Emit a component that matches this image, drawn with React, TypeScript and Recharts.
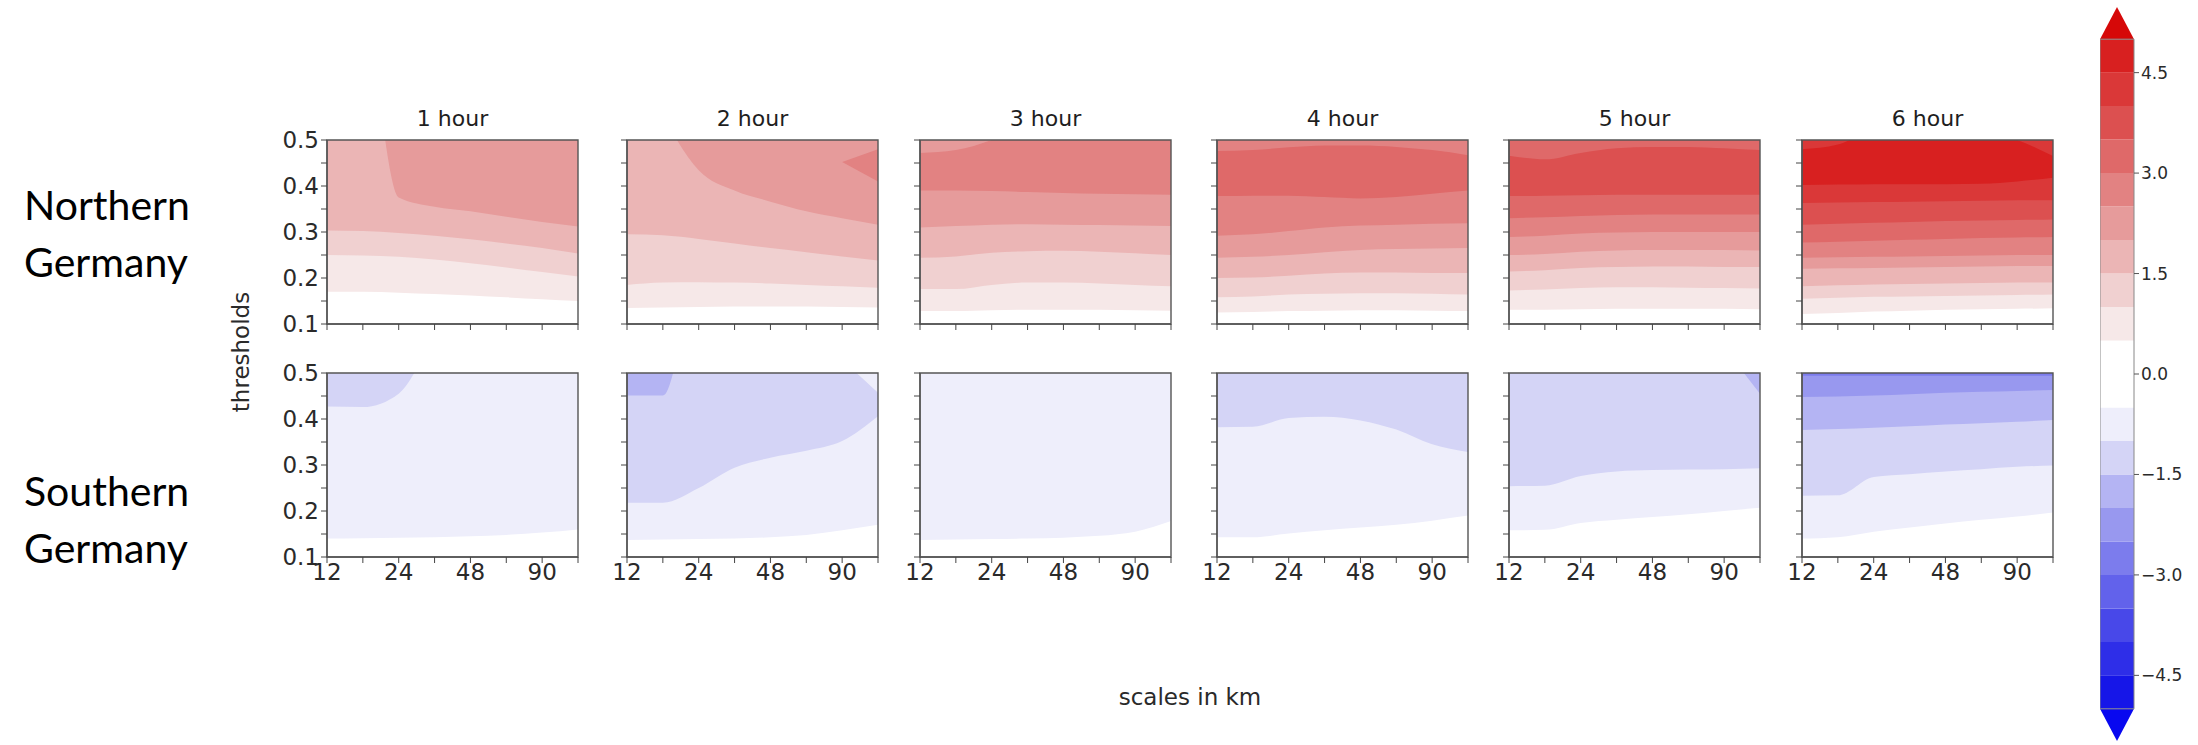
import { Area, ComposedChart, ReferenceArea, XAxis, YAxis } from "recharts";

type Band = { level: number; lo: (number | null)[]; hi?: (number | null)[] };

const TICK_FONT = "DejaVu Sans, sans-serif";

// x runs over scale indices; only every other index carries a label
const SCALE_IDX = [0, 1, 2, 3, 4, 5, 6, 7];
const SCALE_LABELS = ["12", "", "24", "", "48", "", "90", ""];
const THRESHOLD_TICKS = [0.1, 0.15, 0.2, 0.25, 0.3, 0.35, 0.4, 0.45, 0.5];
const LEAD_TIMES = ["1 hour", "2 hour", "3 hour", "4 hour", "5 hour", "6 hour"];

// contour fill colours, level 1 = |value| 0.5..1.0, level 9 = 4.5..5.0
const REDS = ["#f6e8e8", "#f0d0d0", "#ebb5b5", "#e69b9b", "#e28282", "#df6969", "#dc5050", "#da3838", "#d82020"];
const BLUES = ["#eeeefb", "#d4d4f6", "#b4b4f3", "#9898ef", "#7c7ced", "#6262eb", "#4848e9", "#2e2ee8", "#1616e8"];

const _ = null;

// each band: threshold where the field reaches the level, per scale index
const NORTH_1: Band[] = [
  { level: 1, lo: [0.17, 0.17, 0.168, 0.165, 0.162, 0.158, 0.154, 0.15] },
  { level: 2, lo: [0.25, 0.249, 0.246, 0.24, 0.232, 0.223, 0.213, 0.203] },
  { level: 3, lo: [0.303, 0.302, 0.298, 0.292, 0.284, 0.275, 0.265, 0.253] },
  { level: 4, lo: [0.95, 0.82, 0.375, 0.355, 0.345, 0.333, 0.322, 0.312] },
];
const NORTH_2: Band[] = [
  { level: 1, lo: [0.135, 0.136, 0.137, 0.138, 0.138, 0.138, 0.137, 0.136] },
  { level: 2, lo: [0.185, 0.19, 0.191, 0.19, 0.188, 0.185, 0.182, 0.179] },
  { level: 3, lo: [0.295, 0.293, 0.285, 0.275, 0.265, 0.256, 0.247, 0.238] },
  { level: 4, lo: [0.75, 0.557, 0.434, 0.39, 0.366, 0.345, 0.33, 0.316] },
  { level: 5, lo: [_, _, _, _, _, _, 0.452, 0.41], hi: [_, _, _, _, _, _, 0.452, 0.48] },
];
const NORTH_3: Band[] = [
  { level: 1, lo: [0.128, 0.128, 0.13, 0.131, 0.131, 0.131, 0.13, 0.129] },
  { level: 2, lo: [0.176, 0.176, 0.185, 0.19, 0.19, 0.188, 0.185, 0.182] },
  { level: 3, lo: [0.244, 0.247, 0.255, 0.258, 0.259, 0.257, 0.254, 0.25] },
  { level: 4, lo: [0.31, 0.313, 0.316, 0.317, 0.316, 0.315, 0.314, 0.313] },
  { level: 5, lo: [0.39, 0.39, 0.389, 0.387, 0.385, 0.383, 0.382, 0.381] },
  { level: 4, lo: [0.472, 0.478, 0.5, _, _, _, _, _], hi: [0.5, 0.5, 0.5, _, _, _, _, _] },
];
const NORTH_4: Band[] = [
  { level: 1, lo: [0.125, 0.126, 0.128, 0.129, 0.13, 0.13, 0.129, 0.128] },
  { level: 2, lo: [0.158, 0.16, 0.164, 0.166, 0.167, 0.167, 0.166, 0.164] },
  { level: 3, lo: [0.2, 0.201, 0.205, 0.21, 0.212, 0.212, 0.211, 0.211] },
  { level: 4, lo: [0.244, 0.246, 0.25, 0.256, 0.261, 0.263, 0.264, 0.265] },
  { level: 5, lo: [0.292, 0.295, 0.302, 0.31, 0.314, 0.316, 0.318, 0.319] },
  {
    level: 6,
    lo: [0.378, 0.379, 0.379, 0.376, 0.373, 0.376, 0.383, 0.39],
    hi: [0.476, 0.478, 0.484, 0.488, 0.488, 0.485, 0.478, 0.467],
  },
];
const NORTH_5: Band[] = [
  { level: 1, lo: [0.131, 0.131, 0.132, 0.133, 0.133, 0.133, 0.133, 0.132] },
  { level: 2, lo: [0.173, 0.175, 0.178, 0.18, 0.18, 0.179, 0.178, 0.177] },
  { level: 3, lo: [0.214, 0.217, 0.222, 0.224, 0.225, 0.225, 0.224, 0.224] },
  { level: 4, lo: [0.25, 0.252, 0.257, 0.26, 0.261, 0.261, 0.261, 0.26] },
  { level: 5, lo: [0.289, 0.292, 0.297, 0.299, 0.3, 0.3, 0.3, 0.3] },
  { level: 6, lo: [0.33, 0.332, 0.335, 0.337, 0.338, 0.338, 0.338, 0.338] },
  {
    level: 7,
    lo: [0.378, 0.379, 0.38, 0.381, 0.381, 0.381, 0.381, 0.381],
    hi: [0.466, 0.458, 0.472, 0.482, 0.485, 0.485, 0.482, 0.478],
  },
];
const NORTH_6: Band[] = [
  { level: 1, lo: [0.122, 0.124, 0.127, 0.129, 0.131, 0.132, 0.133, 0.134] },
  { level: 2, lo: [0.155, 0.157, 0.159, 0.16, 0.161, 0.162, 0.163, 0.164] },
  { level: 3, lo: [0.182, 0.184, 0.186, 0.187, 0.188, 0.189, 0.19, 0.19] },
  { level: 4, lo: [0.22, 0.221, 0.222, 0.223, 0.224, 0.225, 0.226, 0.226] },
  { level: 5, lo: [0.244, 0.245, 0.246, 0.247, 0.248, 0.249, 0.25, 0.25] },
  { level: 6, lo: [0.277, 0.279, 0.281, 0.283, 0.285, 0.287, 0.288, 0.289] },
  { level: 7, lo: [0.316, 0.318, 0.32, 0.322, 0.324, 0.325, 0.326, 0.327] },
  { level: 8, lo: [0.363, 0.364, 0.365, 0.366, 0.367, 0.368, 0.369, 0.369] },
  {
    level: 9,
    lo: [0.402, 0.403, 0.404, 0.404, 0.404, 0.405, 0.41, 0.418],
    hi: [0.48, 0.49, 0.52, 0.52, 0.52, 0.52, 0.5, 0.465],
  },
];

const SOUTH_1: Band[] = [
  { level: 1, lo: [0.14, 0.141, 0.142, 0.143, 0.145, 0.148, 0.153, 0.16] },
  { level: 2, lo: [0.427, 0.426, 0.455, 0.58, 0.7, 0.7, 0.7, 0.7] },
];
const SOUTH_2: Band[] = [
  { level: 1, lo: [0.137, 0.138, 0.139, 0.14, 0.143, 0.148, 0.158, 0.17] },
  { level: 2, lo: [0.218, 0.218, 0.25, 0.294, 0.316, 0.331, 0.352, 0.406] },
  { level: 1, lo: [_, _, _, _, _, _, 0.529, 0.457] },
  { level: 3, lo: [0.451, 0.451, 0.7, 0.7, 0.7, 0.7, 0.7, 0.7] },
];
const SOUTH_3: Band[] = [
  { level: 1, lo: [0.137, 0.138, 0.139, 0.14, 0.142, 0.146, 0.155, 0.178] },
];
const SOUTH_4: Band[] = [
  { level: 1, lo: [0.143, 0.143, 0.151, 0.158, 0.164, 0.17, 0.179, 0.19] },
  { level: 2, lo: [0.382, 0.383, 0.402, 0.405, 0.397, 0.377, 0.345, 0.328] },
];
const SOUTH_5: Band[] = [
  { level: 1, lo: [0.158, 0.159, 0.174, 0.181, 0.187, 0.193, 0.2, 0.207] },
  { level: 2, lo: [0.254, 0.255, 0.276, 0.286, 0.289, 0.29, 0.291, 0.293] },
  { level: 3, lo: [_, _, _, _, _, _, 0.555, 0.455] },
];
const SOUTH_6: Band[] = [
  { level: 1, lo: [0.14, 0.143, 0.155, 0.164, 0.173, 0.181, 0.188, 0.197] },
  { level: 2, lo: [0.233, 0.234, 0.274, 0.28, 0.286, 0.291, 0.296, 0.299] },
  { level: 3, lo: [0.376, 0.378, 0.381, 0.384, 0.388, 0.391, 0.394, 0.398] },
  { level: 4, lo: [0.448, 0.449, 0.451, 0.454, 0.457, 0.459, 0.461, 0.463] },
  { level: 5, lo: [0.494, 0.494, 0.494, 0.494, 0.494, 0.494, 0.494, 0.494] },
];

const NORTH = [NORTH_1, NORTH_2, NORTH_3, NORTH_4, NORTH_5, NORTH_6];
const SOUTH = [SOUTH_1, SOUTH_2, SOUTH_3, SOUTH_4, SOUTH_5, SOUTH_6];

// colour bar
const CB_X = [0, 0.5, 1];
const CB_TIP = [0, 1, 0];
const CB_EDGES = [-5, -4.5, -4, -3.5, -3, -2.5, -2, -1.5, -1, -0.5, 0.5, 1, 1.5, 2, 2.5, 3, 3.5, 4, 4.5, 5];
const CB_COLORS = [...BLUES.slice().reverse(), "#ffffff", ...REDS];
const CB_TICKS = [4.5, 3, 1.5, 0, -1.5, -3, -4.5];
const CB_OVER = "#d60808";
const CB_UNDER = "#0808f0";

// layout (px)
const PANEL_LEFT = [327, 627, 920, 1217, 1509, 1802];
const ROW_TOP = [140, 373];
const PW = 251;
const PH = 184;
const AXIS_W = 60;
const AXIS_H = 40;
const PAD_TOP = 18;
const PAD_RIGHT = 10;

interface PanelProps {
  left: number;
  top: number;
  bands: Band[];
  palette: string[];
  yLabels: boolean;
  xLabels: boolean;
}

function Panel({ left, top, bands, palette, yLabels, xLabels }: PanelProps) {
  const rows = SCALE_IDX.map((x, i) => {
    const row: Record<string, number | null> = { x };
    bands.forEach((b, k) => {
      row[`lo${k}`] = b.lo[i];
      if (b.hi) row[`hi${k}`] = b.hi[i];
    });
    return row;
  });
  const tickStyle = { fontSize: 23, fill: "#2a2a2a", fontFamily: TICK_FONT };
  return (
    <div style={{ position: "absolute", left: left - AXIS_W, top: top - PAD_TOP }}>
      <ComposedChart
        width={AXIS_W + PW + PAD_RIGHT}
        height={PAD_TOP + PH + AXIS_H}
        data={rows}
        margin={{ top: PAD_TOP, right: PAD_RIGHT, bottom: 0, left: 0 }}
      >
        <XAxis
          type="number"
          dataKey="x"
          domain={[0, 7]}
          ticks={SCALE_IDX}
          interval={0}
          height={AXIS_H}
          tickFormatter={(v: number) => (xLabels ? SCALE_LABELS[v] : "")}
          tick={tickStyle}
          tickSize={6}
          tickMargin={1}
          tickLine={{ stroke: "#444" }}
          axisLine={{ stroke: "#555", strokeWidth: 1.4 }}
        />
        <YAxis
          type="number"
          domain={[0.1, 0.5]}
          allowDataOverflow
          ticks={THRESHOLD_TICKS}
          interval={0}
          width={AXIS_W}
          tickFormatter={(v: number) =>
            yLabels && Math.round(v * 100) % 10 === 0 ? v.toFixed(1) : ""
          }
          tick={tickStyle}
          tickSize={6}
          tickMargin={2}
          tickLine={{ stroke: "#444" }}
          axisLine={{ stroke: "#555", strokeWidth: 1.4 }}
        />
        {bands.map((b, k) =>
          b.hi ? (
            <Area
              key={k}
              type="monotone"
              dataKey={(d: Record<string, number | null>) =>
                d[`lo${k}`] == null ? null : [d[`lo${k}`], d[`hi${k}`]]
              }
              fill={palette[b.level - 1]}
              fillOpacity={1}
              stroke="none"
              dot={false}
              activeDot={false}
              isAnimationActive={false}
            />
          ) : (
            <Area
              key={k}
              type="monotone"
              dataKey={`lo${k}`}
              baseValue={0.5}
              fill={palette[b.level - 1]}
              fillOpacity={1}
              stroke="none"
              dot={false}
              activeDot={false}
              isAnimationActive={false}
            />
          ),
        )}
        <ReferenceArea x1={0} x2={7} y1={0.1} y2={0.5} fill="none" stroke="#555" strokeWidth={1.4} />
      </ComposedChart>
    </div>
  );
}

// colour bar: 0 sits at y=374, 67 px per unit
const CB_LEFT = 2100;
const CB_W = 34;
const CB_TOP = 7;
const CB_H = 734;
const CB_ARROW = 0.48;

function ColorBar() {
  const rows = CB_X.map((x, i) => ({ x, tip: CB_TIP[i] }));
  return (
    <div style={{ position: "absolute", left: CB_LEFT, top: CB_TOP }}>
      <ComposedChart
        width={CB_W + 64}
        height={CB_H}
        data={rows}
        margin={{ top: 0, right: 0, bottom: 0, left: 0 }}
      >
        <XAxis type="number" dataKey="x" domain={[0, 1]} hide />
        <YAxis
          orientation="right"
          type="number"
          domain={[-5 - CB_ARROW, 5 + CB_ARROW]}
          allowDataOverflow
          ticks={CB_TICKS}
          interval={0}
          width={64}
          tickFormatter={(v: number) => v.toFixed(1).replace("-", "\u2212")}
          tick={{ fontSize: 17, fill: "#2a2a2a", fontFamily: TICK_FONT }}
          tickSize={5}
          tickMargin={2}
          tickLine={{ stroke: "#555" }}
          axisLine={false}
        />
        {CB_COLORS.map((c, i) => (
          <Area
            key={i}
            type="linear"
            dataKey={() => [CB_EDGES[i], CB_EDGES[i + 1]]}
            fill={c}
            fillOpacity={1}
            stroke="none"
            dot={false}
            activeDot={false}
            isAnimationActive={false}
          />
        ))}
        <Area
          type="linear"
          dataKey={(d: { tip: number }) => [5, 5 + CB_ARROW * d.tip]}
          fill={CB_OVER}
          fillOpacity={1}
          stroke="none"
          dot={false}
          activeDot={false}
          isAnimationActive={false}
        />
        <Area
          type="linear"
          dataKey={(d: { tip: number }) => [-5 - CB_ARROW * d.tip, -5]}
          fill={CB_UNDER}
          fillOpacity={1}
          stroke="none"
          dot={false}
          activeDot={false}
          isAnimationActive={false}
        />
        <ReferenceArea x1={0} x2={1} y1={-5} y2={5} fill="none" stroke="#888" strokeWidth={1} />
      </ComposedChart>
    </div>
  );
}

const regionStyle = {
  position: "absolute" as const,
  left: 24,
  fontFamily: "Lato, sans-serif",
  fontSize: 41,
  lineHeight: "57px",
  color: "#000",
};

const labelStyle = {
  position: "absolute" as const,
  fontFamily: TICK_FONT,
  fontSize: 23,
  color: "#2a2a2a",
  whiteSpace: "nowrap" as const,
};

export default function App() {
  return (
    <div
      style={{
        position: "absolute",
        left: 0,
        top: 0,
        width: 2198,
        height: 745,
        background: "#fff",
        overflow: "hidden",
      }}
    >
      {LEAD_TIMES.map((t, i) => (
        <div
          key={t}
          style={{
            ...labelStyle,
            left: PANEL_LEFT[i],
            width: PW,
            top: 106,
            fontSize: 22,
            color: "#1e1e1e",
            textAlign: "center",
          }}
        >
          {t}
        </div>
      ))}
      {NORTH.map((bands, i) => (
        <Panel
          key={`n${i}`}
          left={PANEL_LEFT[i]}
          top={ROW_TOP[0]}
          bands={bands}
          palette={REDS}
          yLabels={i === 0}
          xLabels={false}
        />
      ))}
      {SOUTH.map((bands, i) => (
        <Panel
          key={`s${i}`}
          left={PANEL_LEFT[i]}
          top={ROW_TOP[1]}
          bands={bands}
          palette={BLUES}
          yLabels={i === 0}
          xLabels
        />
      ))}
      <div style={{ ...regionStyle, top: 176 }}>
        Northern
        <br />
        Germany
      </div>
      <div style={{ ...regionStyle, top: 462 }}>
        Southern
        <br />
        Germany
      </div>
      <div
        style={{
          ...labelStyle,
          left: 241,
          top: 352,
          transform: "translate(-50%, -50%) rotate(-90deg)",
        }}
      >
        thresholds
      </div>
      <div
        style={{
          ...labelStyle,
          left: 1190,
          top: 697,
          transform: "translate(-50%, -50%)",
        }}
      >
        scales in km
      </div>
      <ColorBar />
    </div>
  );
}
